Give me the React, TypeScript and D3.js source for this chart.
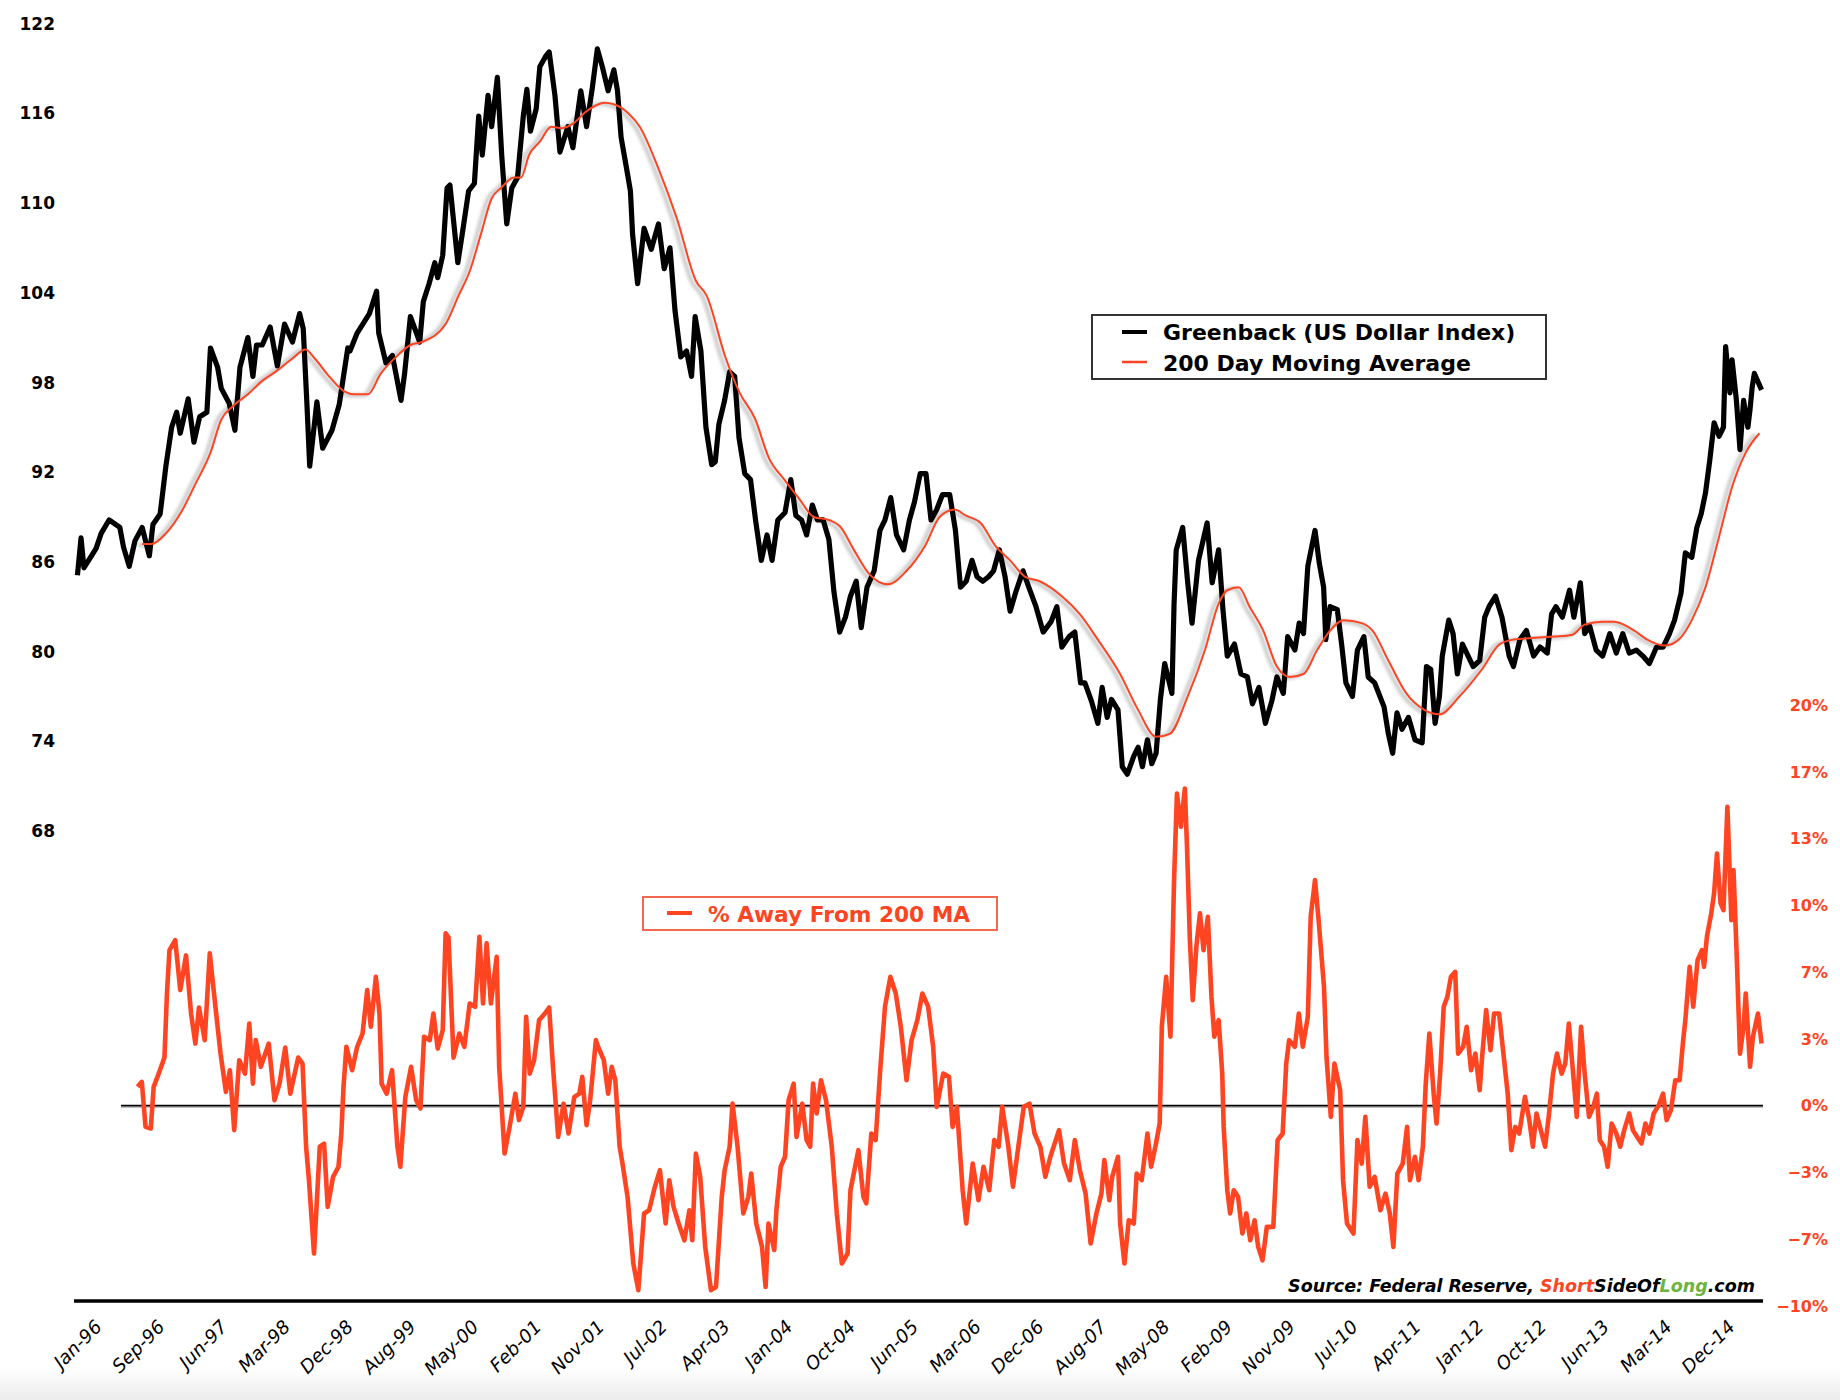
import React from "react";
import * as d3 from "d3";

// x = months since Jan 1996, y = value
const dxy: [number, number][] = [
  [0.2,85.1],[0.7,87.6],[1.1,85.6],[2.8,86.9],[3.5,87.9],[4.6,88.8],[6.1,88.3],[6.6,87.0],[7.4,85.7],[8.2,87.4],[9.2,88.3],[10.2,86.4],[10.7,88.5],[11.7,89.2],[12.5,92.4],[13.3,95.0],[14.0,96.0],[14.5,94.6],[15.6,96.9],[16.4,94.0],[17.2,95.7],[18.2,96.0],[18.7,100.3],[19.7,99.0],[20.2,97.6],[21.3,96.6],[22.1,94.8],[22.8,99.0],[23.9,101.0],[24.6,98.4],[25.1,100.5],[25.9,100.5],[27.0,101.7],[28.0,99.1],[29.0,101.9],[30.1,100.7],[31.1,102.6],[31.6,101.6],[32.1,96.7],[32.5,92.4],[33.5,96.7],[34.3,93.6],[35.6,94.8],[36.6,96.5],[37.8,100.3],[38.1,100.1],[39.1,101.3],[40.8,102.6],[41.8,104.1],[42.1,101.3],[43.1,99.3],[44.0,99.8],[45.2,96.8],[45.7,98.6],[46.5,102.4],[47.8,100.7],[48.3,103.4],[49.1,104.6],[49.9,106.0],[50.3,105.0],[51.0,106.5],[51.6,111.0],[52.0,111.2],[53.1,106.0],[53.8,108.2],[54.6,110.8],[55.4,111.3],[56.0,115.8],[56.5,113.2],[57.3,117.2],[57.8,115.1],[58.6,118.4],[59.2,113.2],[59.9,108.6],[60.6,111.0],[61.4,111.7],[62.2,115.8],[62.7,117.6],[63.2,114.8],[64.0,116.3],[64.5,119.1],[65.3,119.8],[65.8,120.1],[66.6,117.2],[67.3,113.4],[68.4,115.1],[69.1,113.7],[70.2,117.5],[71.0,115.1],[71.8,117.7],[72.5,120.3],[73.2,119.1],[74.0,117.5],[74.8,118.9],[75.3,117.5],[75.8,114.4],[76.6,112.2],[77.1,110.8],[77.4,107.9],[78.1,104.6],
  [79.0,108.3],[80.0,106.9],[81.0,108.6],[81.8,105.6],[82.6,107.0],[83.3,102.8],[84.1,99.7],[84.9,100.1],[85.6,98.4],[86.1,102.4],[86.9,100.1],[87.6,95.0],[88.4,92.5],[88.9,92.7],[89.4,95.2],[90.2,96.8],[90.9,98.7],[91.6,98.4],[92.2,94.3],[93.0,91.9],[93.8,91.5],[94.5,88.8],[95.3,86.1],[96.1,87.8],[96.8,86.1],[97.6,88.8],[98.6,89.3],[99.4,91.5],[100.1,89.1],[100.9,88.8],[101.6,87.8],[102.4,89.8],[103.1,88.8],[103.9,88.8],[104.7,87.5],[105.4,84.0],[106.2,81.3],[107.0,82.3],[107.7,83.7],[108.5,84.7],[109.2,81.6],[110.0,84.3],[111.0,85.4],[111.8,88.1],[112.5,88.8],[113.3,90.3],[114.1,87.8],[115.1,86.8],[115.9,88.8],[116.6,90.0],[117.4,91.9],[118.2,91.9],[118.9,88.8],[119.7,89.5],[120.5,90.5],[121.5,90.5],[122.3,88.1],[123.0,84.3],[123.8,84.7],[124.6,86.1],[125.3,85.0],[126.1,84.7],[126.9,85.0],[127.6,85.4],[128.4,86.8],[129.2,85.0],[129.9,82.7],[130.7,84.0],[131.7,85.4],[132.5,84.3],[133.5,83.0],[134.5,81.3],[135.6,82.0],[136.4,83.0],[137.1,80.3],[138.1,81.0],[138.9,81.3],[139.7,77.9],
  [140.3,77.9],[141.2,76.7],[142.1,75.2],[142.7,77.6],[143.4,75.6],[144.0,76.8],[144.9,76.1],[145.5,72.3],[146.2,71.8],[147.1,73.0],[147.7,73.6],[148.3,72.3],[149.0,74.1],[149.6,72.5],[150.2,73.2],[150.8,76.8],[151.4,79.2],[152.4,77.2],[152.7,83.2],[153.0,86.8],[153.9,88.3],[154.6,84.6],[155.2,81.9],[156.1,86.1],[157.3,88.6],[158.0,84.6],[158.9,86.8],[159.5,82.8],[160.1,79.7],[161.1,80.5],[162.0,78.5],[162.9,78.3],[163.6,76.5],[164.5,77.6],[165.4,75.2],[166.3,76.7],[167.0,78.3],[167.9,77.2],[168.5,81.0],[169.5,80.1],[170.1,81.9],[170.7,81.2],[171.3,85.7],[172.3,88.1],[172.9,85.9],[173.5,84.3],[173.8,80.8],[174.4,83.0],[175.4,82.8],[176.0,80.5],[176.6,77.9],[177.5,77.0],[178.2,80.1],[179.1,81.0],[179.7,78.3],[180.6,77.9],[181.9,76.3],[182.5,74.5],[183.1,73.2],[183.7,75.9],[184.4,74.8],[185.3,75.6],[186.2,74.1],[187.2,73.9],[187.8,79.0],[188.4,78.8],[189.0,75.2],[189.6,77.0],[190.0,79.7],[190.9,82.1],[191.5,81.2],[192.1,78.5],[192.8,80.5],[193.4,79.9],[194.3,79.0],[195.2,79.4],[195.9,82.3],[196.5,83.0],[197.4,83.7],[198.3,82.3],[199.3,79.7],[199.9,79.0],[200.8,80.8],[201.7,81.4],[202.7,79.7],[203.6,80.3],[204.6,79.9],[205.2,82.5],[205.8,83.0],[206.7,82.3],[207.7,84.1],[208.3,82.3],[209.2,84.6],[209.8,81.2],[210.5,81.7],[211.4,80.1],[212.3,79.7],[213.3,81.2],[214.2,79.9],[215.1,81.2],[216.0,79.9],[217.0,80.1],[217.9,79.7],[218.8,79.2],[219.8,80.3],[220.7,80.3],[221.6,81.2],[222.3,82.1],[223.2,83.9],[223.8,86.6],[224.7,86.3],[225.4,88.3],[226.0,89.2],[226.6,90.6],[227.2,92.8],[227.8,95.3],[228.5,94.4],[229.1,95.0],[229.4,100.4],[230.0,97.3],[230.3,99.5],[230.9,96.8],[231.4,93.5],[231.9,96.8],[232.5,95.0],[232.8,96.2],[233.1,97.7],[233.4,98.6],[234.4,97.5]
];

const ma200: [number, number][] = [
  [9.2,87.2],[10.5,87.2],[12.5,87.9],[14.6,89.3],[16.6,91.2],[18.7,93.3],[20.2,95.5],[21.8,96.4],[23.9,97.2],[25.9,98.1],[28.0,98.8],[30.1,99.6],[31.9,100.2],[33.2,99.6],[35.2,98.4],[37.3,97.4],[38.8,97.2],[40.6,97.2],[42.4,98.6],[44.5,99.7],[46.5,100.5],[48.1,100.7],[51.4,101.9],[53.2,103.8],[54.8,105.5],[56.3,107.9],[57.8,110.3],[59.1,111.0],[60.9,111.7],[61.9,111.7],[63.0,113.2],[64.5,114.1],[66.1,115.1],[67.6,115.0],[69.1,115.3],[70.9,116.1],[72.2,116.5],[73.5,116.7],[74.8,116.6],[76.8,116.0],[78.4,115.1],[81.0,112.3],[83.6,108.9],[86.2,104.8],[87.7,103.8],[90.3,99.7],[92.3,97.3],[94.4,95.6],[96.4,92.9],[98.5,91.5],[100.6,90.2],[102.6,89.0],[104.7,88.8],[106.2,88.4],[108.3,86.7],[110.3,85.2],[112.9,84.5],[115.5,85.4],[118.1,87.1],[120.1,89.0],[122.2,89.5],[123.7,89.1],[125.8,88.6],[127.8,87.1],[129.9,86.1],[132.0,85.0],[134.0,84.7],[137.1,83.7],[139.6,82.5],[142.1,80.8],[145.2,78.5],[147.7,76.1],[150.2,74.3],[152.1,74.5],[154.6,77.0],[157.0,80.1],[158.9,83.2],[160.1,84.1],[161.7,84.3],[163.2,83.0],[165.1,81.4],[167.0,79.0],[168.8,78.3],[170.7,78.5],[172.6,80.1],[174.4,81.4],[176.3,82.1],[178.8,81.9],[180.3,81.4],[182.5,79.4],[185.0,77.2],[187.5,76.1],[189.6,75.8],[192.4,77.0],[195.5,78.8],[198.0,80.5],[199.9,80.8],[202.4,80.9],[205.5,81.0],[208.0,81.1],[209.8,81.8],[212.3,82.0],[213.9,82.0],[216.7,81.4],[218.5,80.8],[221.0,80.4],[222.9,80.8],[224.7,82.1],[226.6,84.3],[228.5,87.7],[230.3,91.0],[232.2,93.3],[234.1,94.6]
];

const pctAway: [number, number][] = [
  [8.56,0.94],[9.15,1.19],[9.67,-1.06],[10.4,-1.14],[10.8,0.94],[11.5,1.6],[12.3,2.4],[12.65,5.6],[13.0,7.76],[13.8,8.26],[14.5,5.77],[15.3,7.5],[16.0,4.6],[16.6,3.1],[17.1,4.9],[17.9,3.27],[18.6,7.6],[19.4,4.9],[20.1,2.6],[20.85,0.69],[21.4,1.77],[22.0,-1.22],[22.7,2.27],[23.5,1.6],[24.1,4.1],[24.6,1.1],[25.0,3.27],[25.7,1.94],[26.8,3.1],[27.6,0.27],[28.3,1.1],[29.1,2.9],[29.8,0.6],[30.9,2.4],[31.5,2.1],[32.0,-2.05],[32.4,-3.72],[33.1,-7.38],[33.9,-2.05],[34.5,-1.9],[35.0,-5.05],[35.75,-3.55],[36.5,-3.05],[36.9,-1.39],[37.2,0.94],[37.6,2.94],[38.4,1.77],[39.1,2.94],[39.85,3.6],[40.5,5.77],[41.0,3.94],[41.7,6.43],[42.2,4.6],[42.5,1.1],[43.2,0.6],[43.95,1.77],[44.7,-2.05],[45.1,-3.05],[45.8,0.44],[46.6,1.94],[47.3,0.27],[47.9,-0.14],[48.4,3.44],[49.2,3.27],[49.7,4.6],[50.3,2.85],[51.0,3.77],[51.4,8.6],[51.8,8.4],[52.5,2.4],[53.3,3.6],[54.0,2.94],[54.75,5.1],[55.5,4.94],[56.1,8.43],[56.6,5.1],[57.1,8.1],[57.7,5.1],[58.5,7.43],[58.85,1.94],[59.6,-2.39],[60.3,-1.06],[61.1,0.6],[61.6,-0.72],[62.2,-0.06],[62.6,4.43],[63.1,1.6],[63.7,2.27],[64.4,4.27],[65.2,4.6],[65.8,4.9],[66.3,2.1],[67.05,-1.56],[67.8,0.1],[68.5,-1.39],[69.3,0.44],[70.0,0.6],[70.4,1.44],[71.0,-0.97],[71.5,0.27],[72.3,3.27],[72.6,2.94],[73.4,2.27],[74.0,0.6],[74.5,1.94],[75.0,1.27],[75.6,-2.05],[76.0,-2.89],[76.7,-4.55],[77.5,-7.88],[78.2,-9.21],[79.0,-5.38],[79.7,-5.22],[80.5,-4.05],[81.2,-3.22],[82.0,-5.88],[82.5,-3.72],[83.1,-5.05],[83.8,-5.88],[84.6,-6.72],[85.3,-5.22],[85.7,-6.72],[86.2,-2.39],[86.8,-3.55],[87.5,-7.05],[88.3,-9.21],[89.0,-9.05],[89.8,-4.55],[90.2,-3.22],[90.9,-2.05],[91.3,0.1],[92.0,-2.05],[92.8,-5.38],[93.5,-4.55],[93.9,-3.39],[94.6,-5.88],[95.4,-7.05],[95.9,-9.05],[96.3,-5.88],[97.1,-7.2],[97.4,-5.22],[98.0,-3.05],[98.6,-2.55],[99.1,0.27],[99.8,1.1],[100.2,-1.56],[101.0,0.1],[101.6,-1.72],[102.1,-2.05],[102.5,1.1],[103.0,-0.39],[103.6,1.27],[104.3,0.27],[105.1,-2.05],[105.8,-5.38],[106.5,-7.88],[107.3,-7.38],[107.7,-4.22],[108.8,-2.22],[109.5,-4.55],[109.9,-4.88],[110.6,-1.39],[111.2,-1.72],[111.8,1.6],[112.5,4.94],[113.25,6.43],[114.0,5.6],[114.7,3.94],[115.5,1.27],[116.2,3.27],[117.0,4.27],[117.7,5.6],[118.5,4.94],
  [119.2,2.94],[119.7,-0.06],[120.6,1.6],[121.4,1.44],[121.9,-1.06],[122.5,-0.06],[123.3,-4.22],[123.8,-5.88],[124.7,-2.89],[125.5,-4.72],[126.2,-3.05],[127.0,-4.22],[127.7,-1.72],[128.3,-2.05],[128.8,-0.06],[129.6,-1.89],[130.3,-4.05],[131.1,-1.89],[131.8,-0.06],[132.6,0.1],[133.3,-1.39],[134.1,-2.05],[134.8,-3.55],[135.5,-2.55],[136.7,-1.22],[137.4,-2.89],[138.2,-3.72],[138.9,-1.72],[139.6,-3.22],[140.4,-4.39],[141.1,-6.88],[141.9,-5.38],[142.6,-4.39],[143.0,-2.72],[143.7,-4.72],[144.1,-3.55],[144.9,-2.55],[145.2,-5.88],[145.8,-7.88],[146.4,-5.72],[147.1,-5.88],[147.5,-3.39],[148.2,-3.72],[149.0,-1.39],[149.5,-3.05],[150.1,-2.05],[150.7,-0.89],[151.0,3.94],[151.6,6.43],[152.2,3.44],[152.7,11.26],[153.1,15.58],[153.65,13.92],[154.2,15.83],[154.5,12.92],[154.9,8.26],[155.3,5.27],[155.8,7.93],[156.3,9.6],[156.8,7.76],[157.4,9.43],[157.9,5.43],[158.3,3.44],[158.9,4.27],[159.4,1.6],[159.6,-1.06],[160.1,-4.22],[160.5,-5.38],[161.0,-4.22],[161.6,-4.55],[162.2,-6.38],[162.75,-5.38],[163.3,-6.72],[163.9,-5.72],[164.4,-7.05],[165.0,-7.72],[165.6,-6.05],[166.5,-6.05],[167.1,-1.72],[167.8,-1.39],[168.3,2.1],[168.7,3.27],[169.5,2.94],[170.05,4.6],[170.6,2.94],[171.3,4.43],[171.7,9.43],[172.3,11.26],[172.8,9.26],[173.55,5.93],[173.9,2.44],[174.5,-0.56],[175.0,2.1],[175.8,0.77],[176.2,-3.72],[176.75,-5.88],[177.65,-6.38],[178.2,-1.72],[178.8,-2.89],[179.3,-0.56],[179.9,-4.05],[180.6,-3.55],[181.4,-5.22],[182.1,-4.39],[182.7,-5.38],[183.2,-7.05],[183.75,-3.39],[184.5,-2.89],[185.1,-1.06],[185.5,-3.72],[186.2,-2.55],[186.7,-3.72],[187.3,-2.05],[187.7,1.1],[188.2,3.6],[188.8,0.6],[189.2,-0.89],[189.7,1.6],[190.2,4.94],[190.7,5.43],[191.2,6.43],[191.8,6.68],[192.2,2.6],[192.9,2.94],[193.4,3.94],[194.0,1.77],[194.6,2.6],[195.2,0.77],[195.5,2.27],[196.1,4.77],[196.7,2.77],[197.2,4.6],[197.9,4.6],[198.5,2.6],[199.1,0.6],[199.6,-2.22],[200.15,-1.06],[200.7,-1.39],[201.5,0.44],[202.1,-0.72],[202.6,-2.05],[203.1,-0.39],[203.7,-1.22],[204.3,-2.05],[204.85,-0.39],[205.4,1.6],[205.95,2.6],[206.6,1.6],[207.1,2.1],[207.6,4.1],[208.2,1.6],[208.7,-0.56],[209.3,3.94],[209.8,1.6],[210.4,-0.56],[211.0,-0.06],[211.5,0.6],[211.9,-1.72],[212.5,-2.05],[213.0,-3.05],[213.55,-0.89],[214.2,-1.39],[214.75,-2.05],[215.3,-1.22],[216.0,-0.39],[216.5,-1.22],[217.1,-1.56],[217.7,-1.89],[218.25,-0.89],[218.8,-1.39],[219.4,-0.39],[220.1,0.02],[220.7,0.6],[221.2,-0.72],[221.8,-0.22],[222.4,1.27],[223.0,1.27],[223.5,3.27],[223.8,4.27],[224.4,6.93],[224.9,4.94],[225.5,7.26],[226.1,7.76],[226.4,6.93],[226.8,8.43],[227.4,9.6],[227.8,10.6],[228.2,12.59],[228.7,10.1],[229.1,9.76],[229.65,14.92],[230.2,9.26],[230.5,11.76],[230.9,7.93],[231.4,2.6],[231.9,3.94],[232.2,5.6],[232.8,1.94],[233.2,3.44],[233.9,4.6],[234.4,3.1]
];

const leftTicks = [68, 74, 80, 86, 92, 98, 104, 110, 116, 122];
const rightTicks = [-10, -20 / 3, -10 / 3, 0, 10 / 3, 20 / 3, 10, 40 / 3, 50 / 3, 20];
const xLabels = [
  "Jan-96","Sep-96","Jun-97","Mar-98","Dec-98","Aug-99","May-00","Feb-01","Nov-01",
  "Jul-02","Apr-03","Jan-04","Oct-04","Jun-05","Mar-06","Dec-06","Aug-07","May-08",
  "Feb-09","Nov-09","Jul-10","Apr-11","Jan-12","Oct-12","Jun-13","Mar-14","Dec-14"
];

const RED = "#FF4422";
const FONT = "'DejaVu Sans', Verdana, sans-serif";

export default function App() {
  const x = d3.scaleLinear().domain([0, 234.6]).range([76, 1763]);
  const yTop = d3.scaleLinear().domain([68, 122]).range([831, 23.5]);
  const yBot = d3.scaleLinear().domain([-10, 20]).range([1306, 705]);
  const xl = d3.scalePoint<string>().domain(xLabels).range([103, 1736]);

  const maPath = d3.line<[number, number]>().x((d) => x(d[0])).y((d) => yTop(d[1])).curve(d3.curveMonotoneX)(ma200) || "";
  const dxyPath = d3.line<[number, number]>().x((d) => x(d[0])).y((d) => yTop(d[1]))(dxy) || "";
  const pctPath = d3.line<[number, number]>().x((d) => x(d[0])).y((d) => yBot(d[1]))(pctAway) || "";
  const zeroY = yBot(0);

  return (
    <svg
      width={1840}
      height={1400}
      style={{ position: "absolute", left: 0, top: 0, background: "#fff" }}
      fontFamily={FONT}
    >
      <defs>
        <linearGradient id="floor" x1="0" y1="0" x2="0" y2="1">
          <stop offset="0" stopColor="#ffffff" />
          <stop offset="1" stopColor="#ececec" />
        </linearGradient>
        <filter id="blur" x="-5%" y="-5%" width="110%" height="110%">
          <feGaussianBlur stdDeviation="1.6" />
        </filter>
      </defs>
      <rect x={0} y={0} width={1840} height={1400} fill="#fff" />
      <rect x={0} y={1368} width={1840} height={32} fill="url(#floor)" />

      {/* left axis labels */}
      {leftTicks.map((t) => (
        <text key={t} x={55} y={yTop(t)} dy="0.36em" textAnchor="end" fontSize={17} fontWeight="bold" fill="#000">
          {t}
        </text>
      ))}

      {/* right axis labels */}
      {rightTicks.map((t, i) => (
        <text key={i} x={1828} y={yBot(t)} dy="0.36em" textAnchor="end" fontSize={16} fontWeight="bold" fill={RED}>
          {d3.format(".0f")(t)}%
        </text>
      ))}

      {/* MA shadow + lines */}
      <path d={maPath} fill="none" stroke="#cfcfcf" strokeWidth={4.5} transform="translate(-4,1)" filter="url(#blur)" />
      <path d={dxyPath} fill="none" stroke="#000" strokeWidth={5.2} strokeLinejoin="round" />
      <path d={maPath} fill="none" stroke={RED} strokeWidth={2} />

      {/* bottom panel */}
      <line x1={121} x2={1763} y1={zeroY + 1.5} y2={zeroY + 1.5} stroke="#bbb" strokeWidth={1.5} />
      <line x1={121} x2={1763} y1={zeroY} y2={zeroY} stroke="#000" strokeWidth={1.6} />
      <path d={pctPath} fill="none" stroke={RED} strokeWidth={4.6} strokeLinejoin="round" />

      {/* x axis line */}
      <line x1={74} x2={1763} y1={1301} y2={1301} stroke="#000" strokeWidth={3.5} />

      {/* x labels */}
      {xLabels.map((l) => (
        <text
          key={l}
          transform={`translate(${xl(l)},1328) rotate(-45)`}
          textAnchor="end"
          fontSize={18.5}
          fontStyle="italic"
          fill="#000"
        >
          {l}
        </text>
      ))}

      {/* legend 1 */}
      <rect x={1092} y={315} width={454} height={64} fill="#fff" stroke="#333" strokeWidth={2} />
      <line x1={1122} x2={1147} y1={332} y2={332} stroke="#000" strokeWidth={4} />
      <line x1={1122} x2={1147} y1={362} y2={362} stroke={RED} strokeWidth={2.5} />
      <text x={1163} y={340} fontSize={22} fontWeight="bold" fill="#000">Greenback (US Dollar Index)</text>
      <text x={1163} y={371} fontSize={22} fontWeight="bold" fill="#000">200 Day Moving Average</text>

      {/* legend 2 */}
      <rect x={643} y={897} width={354} height={33} fill="#fff" stroke="#F2674F" strokeWidth={2} />
      <line x1={667} x2={692} y1={913} y2={913} stroke={RED} strokeWidth={4} />
      <text x={708} y={922} fontSize={21.7} fontWeight="bold" fill={RED}>% Away From 200 MA</text>

      {/* source */}
      <text x={1755} y={1292} textAnchor="end" fontSize={17.5} fontStyle="italic" fontWeight="bold" fill="#000">
        Source: Federal Reserve, <tspan fill={RED}>Short</tspan>SideOf<tspan fill="#6DB33F">Long</tspan>.com
      </text>
    </svg>
  );
}
